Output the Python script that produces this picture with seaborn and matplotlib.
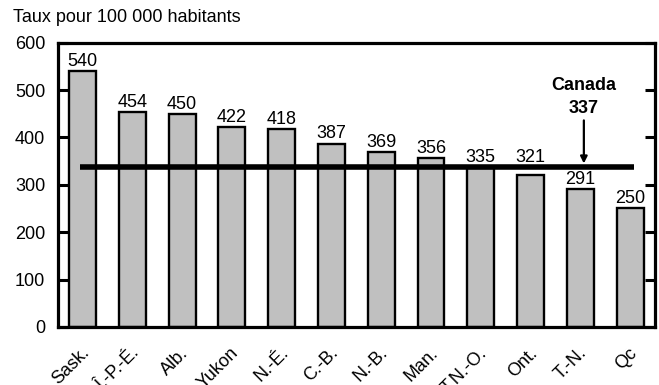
import matplotlib
matplotlib.use("Agg")
import matplotlib.pyplot as plt
import matplotlib.transforms as mtransforms
import seaborn as sns
import pandas as pd

# Taux pour 100 000 habitants, par province et territoire
provinces = ["Sask.", "Î.-P.-É.", "Alb.", "Yukon", "N.-É.", "C.-B.",
             "N.-B.", "Man.", "T.N.-O.", "Ont.", "T.-N.", "Qc"]
taux = [540, 454, 450, 422, 418, 387, 369, 356, 335, 321, 291, 250]
canada_label = "Canada"
canada_taux = 337
y_ticks = [0, 100, 200, 300, 400, 500, 600]

sns.set_style("white")
plt.rcParams["font.family"] = ["Liberation Sans", "DejaVu Sans"]
plt.rcParams["text.color"] = "black"
plt.rcParams["xtick.color"] = "black"
plt.rcParams["ytick.color"] = "black"

df = pd.DataFrame({"province": provinces, "taux": taux})

fig = plt.figure(figsize=(6.59, 3.85), dpi=100)
ax = fig.add_axes([0.0875, 0.151, 0.9065, 0.738])

sns.barplot(data=df, x="province", y="taux", color="#c0c0c0",
            edgecolor="black", linewidth=1.7, width=0.54,
            saturation=1, ax=ax)

# value labels above each bar; labels that would sit on the
# national line are lifted just above it
for i, v in enumerate(taux):
    y = v + 11
    if v > canada_taux - 30:
        y = max(y, canada_taux + 12)
    ax.text(i, y, str(v), ha="center", va="baseline", fontsize=13)

# national average line with its callout
ax.hlines(canada_taux, -0.06, 11.07, color="black", linewidth=4, zorder=5)
ax.annotate("", xy=(10.07, canada_taux + 8), xytext=(10.07, 436),
            arrowprops=dict(arrowstyle="-|>", color="black", lw=1.6,
                            mutation_scale=10, shrinkA=0, shrinkB=0))
ax.text(10.07, 461, str(canada_taux), ha="center", va="center",
        fontsize=13, fontweight="bold")
ax.text(10.07, 509, canada_label, ha="center", va="center",
        fontsize=13, fontweight="bold")

ax.set_xlim(-0.5, 11.5)
ax.set_ylim(0, 600)
ax.set_yticks(y_ticks)
ax.set_xlabel("")
ax.set_ylabel("")

for s in ax.spines.values():
    s.set_visible(True)
    s.set_linewidth(2.3)
    s.set_color("black")

ax.tick_params(axis="y", direction="in", length=7, width=2.2,
               labelsize=13, right=True, left=True, pad=9)
ax.tick_params(axis="x", length=0, labelsize=13, pad=17)
shift = mtransforms.ScaledTranslation(4 / 100, 0, fig.dpi_scale_trans)
for lbl in ax.get_xticklabels():
    lbl.set_rotation(45)
    lbl.set_ha("right")
    lbl.set_va("center")
    lbl.set_rotation_mode("anchor")
    lbl.set_transform(lbl.get_transform() + shift)

fig.text(0.02, 0.955, "Taux pour 100 000 habitants", ha="left",
         va="center", fontsize=13)

fig.savefig("out.png", dpi=100)
